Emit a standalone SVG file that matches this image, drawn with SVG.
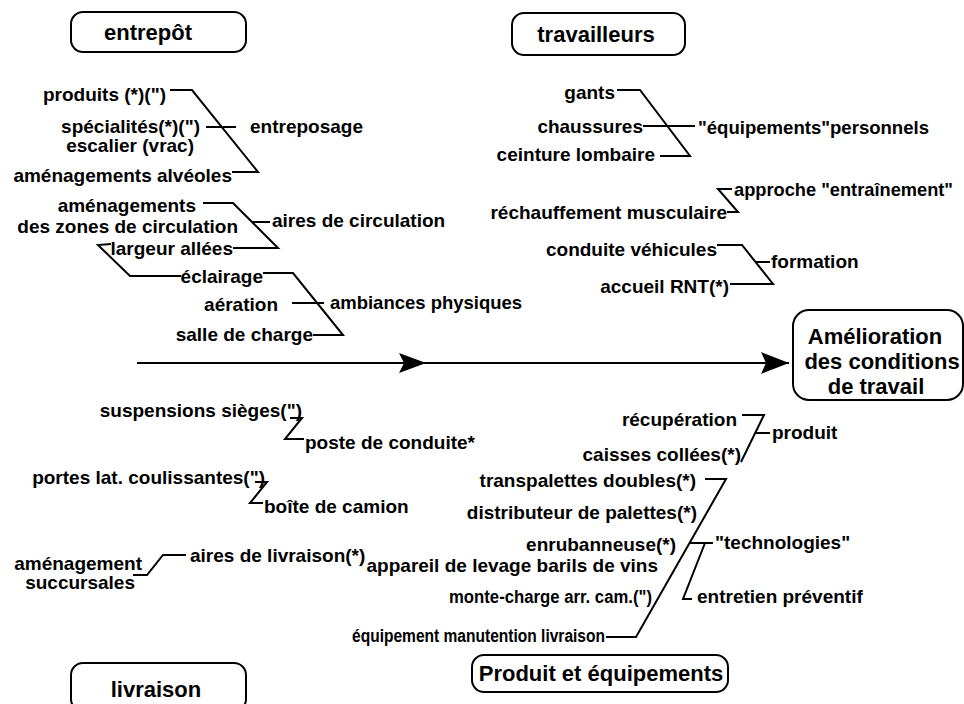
<svg xmlns="http://www.w3.org/2000/svg" width="964" height="704" viewBox="0 0 964 704">
  <style>
    text { font-family: "Liberation Sans", Arial, Helvetica, sans-serif; font-weight: bold; font-size: 19px; fill: #000; }
    .ttl { font-size: 22px; text-anchor: middle; }
    .e { text-anchor: end; }
    .sm { font-size: 17.5px; }
    .box { fill: #fff; stroke: #000; stroke-width: 2; }
    .ln { fill: none; stroke: #000; stroke-width: 2; stroke-linejoin: miter; }
    .head { fill: #000; stroke: none; }
  </style>
  <defs>
    <marker id="tip" viewBox="0 0 28 22" refX="28" refY="11" markerWidth="28" markerHeight="22" markerUnits="userSpaceOnUse" orient="auto">
      <path d="M0,0 L28,11 L0,22 L5,11 Z" fill="#000"/>
    </marker>
  </defs>
  <rect width="964" height="704" fill="#fff"/>

  <!-- category boxes -->
  <g id="cat-entrepot">
    <rect class="box" x="71" y="12" width="175" height="40" rx="12"/>
    <text class="ttl" x="148" y="40">entrepôt</text>
  </g>
  <g id="cat-travailleurs">
    <rect class="box" x="512" y="13" width="173" height="42" rx="12"/>
    <text class="ttl" x="596" y="42">travailleurs</text>
  </g>
  <g id="cat-livraison">
    <rect class="box" x="71" y="663" width="175" height="48" rx="12"/>
    <text class="ttl" x="156" y="697">livraison</text>
  </g>
  <g id="cat-produit">
    <rect class="box" x="472" y="655" width="256" height="37" rx="12"/>
    <text class="ttl" x="601" y="681">Produit et équipements</text>
  </g>
  <g id="effet">
    <rect class="box" x="793" y="310" width="170" height="90" rx="16"/>
    <text class="ttl" x="875" y="344">Amélioration</text>
    <text class="ttl" x="882" y="369">des conditions</text>
    <text class="ttl" x="876" y="394">de travail</text>
  </g>

  <!-- connectors -->
  <g id="connectors">
    <!-- spine -->
    <line class="ln" x1="137" y1="363" x2="789" y2="363" marker-end="url(#tip)"/>
    <path class="head" d="M399,353 L426,363 L399,373 L404,363 Z"/>

    <!-- entreposage -->
    <polyline class="ln" points="170,90 192,90 258,172 232,172"/>
    <line class="ln" x1="206" y1="127" x2="236" y2="127"/>
    <!-- aires de circulation -->
    <polyline class="ln" points="203,203 233,203 278,248 233,248"/>
    <line class="ln" x1="252" y1="222" x2="270" y2="222"/>
    <polyline class="ln" points="111,244 98,245 130,276 181,276"/>
    <!-- ambiances physiques -->
    <polyline class="ln" points="263,273 293,273 343,335 313,335"/>
    <line class="ln" x1="292" y1="303" x2="324" y2="303"/>

    <!-- équipements personnels -->
    <polyline class="ln" points="617,90 640,90 690,156 660,156"/>
    <line class="ln" x1="643" y1="126" x2="695" y2="126"/>
    <!-- approche entraînement -->
    <polyline class="ln" points="732,189 718,189 738,212 727,212"/>
    <!-- formation -->
    <polyline class="ln" points="717,245 742,245 773,284 730,284"/>
    <line class="ln" x1="756" y1="262" x2="770" y2="262"/>

    <!-- poste de conduite -->
    <polyline class="ln" points="290,418 302,418 285,439 304,439"/>
    <!-- boîte de camion -->
    <polyline class="ln" points="255,482 267,482 250,503 263,503"/>
    <!-- aires de livraison -->
    <polyline class="ln" points="133,575 147,575 163,555 186,555"/>

    <!-- produit -->
    <polyline class="ln" points="742,415 764,415 741,462"/>
    <line class="ln" x1="755" y1="433" x2="770" y2="433"/>
    <!-- technologies -->
    <polyline class="ln" points="705,479 726,479 636,637 606,637"/>
    <line class="ln" x1="690" y1="543" x2="713" y2="543"/>
    <polyline class="ln" points="705,543 683,599 692,599"/>
  </g>

  <!-- entrepôt causes -->
  <g id="produits"><text class="e" x="166" y="101">produits (*)(")</text></g>
  <g id="specialites"><text class="e" x="200" y="133">spécialités(*)(")</text></g>
  <g id="escalier"><text class="e" x="194" y="152">escalier (vrac)</text></g>
  <g id="alveoles"><text class="e" x="232" y="182">aménagements alvéoles</text></g>
  <g id="entreposage"><text x="250" y="133">entreposage</text></g>
  <g id="amenagements"><text class="e" x="196" y="212">aménagements</text></g>
  <g id="zones"><text class="e" x="238" y="233">des zones de circulation</text></g>
  <g id="largeur"><text class="e" x="233" y="255">largeur allées</text></g>
  <g id="aires-circulation"><text x="272" y="227">aires de circulation</text></g>
  <g id="eclairage"><text class="e" x="263" y="283">éclairage</text></g>
  <g id="aeration"><text class="e" x="278" y="311">aération</text></g>
  <g id="salle"><text class="e" x="313" y="341">salle de charge</text></g>
  <g id="ambiances"><text x="330" y="309" textLength="192" lengthAdjust="spacingAndGlyphs">ambiances physiques</text></g>

  <!-- travailleurs causes -->
  <g id="gants"><text class="e" x="615" y="99">gants</text></g>
  <g id="chaussures"><text class="e" x="643" y="133">chaussures</text></g>
  <g id="ceinture"><text class="e" x="655" y="161">ceinture lombaire</text></g>
  <g id="equip-perso"><text x="698" y="134" textLength="231" lengthAdjust="spacingAndGlyphs">"équipements"personnels</text></g>
  <g id="approche"><text x="734" y="196" textLength="219" lengthAdjust="spacingAndGlyphs">approche "entraînement"</text></g>
  <g id="rechauffement"><text class="e" x="727" y="219">réchauffement musculaire</text></g>
  <g id="conduite"><text class="e" x="717" y="256">conduite véhicules</text></g>
  <g id="accueil"><text class="e" x="729" y="293">accueil RNT(*)</text></g>
  <g id="formation"><text x="771" y="268">formation</text></g>

  <!-- livraison causes -->
  <g id="suspensions"><text class="e" x="302" y="417">suspensions sièges(")</text></g>
  <g id="poste"><text x="305" y="449">poste de conduite*</text></g>
  <g id="portes"><text class="e" x="265" y="484">portes lat. coulissantes(")</text></g>
  <g id="boite"><text x="264" y="513">boîte de camion</text></g>
  <g id="amenagement-succ"><text class="e" x="142" y="570">aménagement</text><text class="e" x="135" y="589">succursales</text></g>
  <g id="aires-livraison"><text x="190" y="562">aires de livraison(*)</text></g>

  <!-- produit et équipements causes -->
  <g id="recuperation"><text class="e" x="737" y="426">récupération</text></g>
  <g id="caisses"><text class="e" x="741" y="461">caisses collées(*)</text></g>
  <g id="produit"><text x="772" y="439">produit</text></g>
  <g id="transpalettes"><text class="e" x="696" y="487">transpalettes doubles(*)</text></g>
  <g id="distributeur"><text class="e" x="697" y="519">distributeur de palettes(*)</text></g>
  <g id="enrubanneuse"><text class="e" x="676" y="551">enrubanneuse(*)</text></g>
  <g id="technologies"><text x="715" y="549">"technologies"</text></g>
  <g id="appareil"><text class="e" x="658" y="572">appareil de levage barils de vins</text></g>
  <g id="entretien"><text x="697" y="603">entretien préventif</text></g>
  <g id="monte-charge"><text class="sm" x="449" y="603" textLength="203" lengthAdjust="spacingAndGlyphs">monte-charge arr. cam.(")</text></g>
  <g id="manutention"><text class="sm" x="352" y="642" textLength="253" lengthAdjust="spacingAndGlyphs">équipement manutention livraison</text></g>
</svg>
